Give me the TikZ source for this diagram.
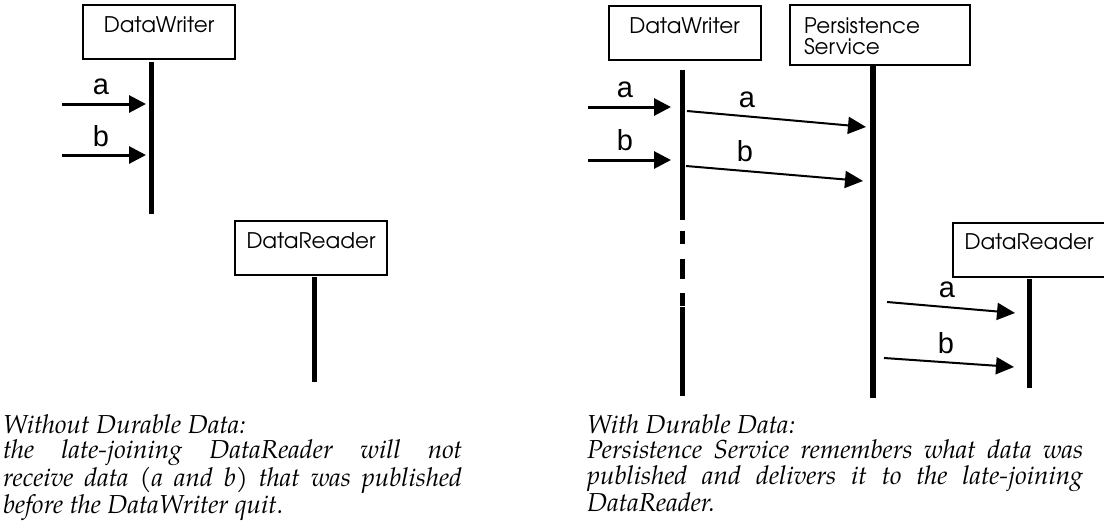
\documentclass[tikz,border=0pt]{standalone}
\usepackage{fontspec}
\usetikzlibrary{arrows.meta}
\newfontfamily\boxfont{TeX Gyre Adventor}
\newfontfamily\capfont{TeX Gyre Pagella}
\newfontfamily\lblfont{Liberation Sans}
\pgfdeclarelayer{edgelayer}
\pgfdeclarelayer{nodelayer}
\pgfsetlayers{edgelayer,nodelayer,main}
\tikzstyle{objbox}=[draw=black, line width=2pt, fill=white, minimum width=152pt, minimum height=54pt, inner sep=0pt, text height=27pt, text depth=27pt, font=\boxfont\fontsize{21.5}{21}\selectfont]
\tikzstyle{lifeline}=[draw=black, line width=5pt]
\tikzstyle{inmsg}=[draw=black, line width=3pt, -{Triangle[length=17pt,width=17pt]}]
\tikzstyle{msg}=[draw=black, line width=2pt, -{Triangle[length=18pt,width=17pt]}]
\tikzstyle{msglabel}=[inner sep=0pt, anchor=base, font=\lblfont\fontsize{29}{29}\selectfont]
\tikzstyle{captext}=[inner sep=0pt, anchor=base west, align=justify, font=\capfont\itshape\fontsize{26}{25.8}\selectfont, execute at begin node={\hyphenpenalty=10000\exhyphenpenalty=10000}]

\begin{document}
\begin{tikzpicture}[x=1pt, y=-1pt]
	\useasboundingbox (0, 0) rectangle (1104, 520);
	\begin{pgfonlayer}{nodelayer}
		\node [style=objbox] (dw) at (159, 32) {DataWriter};
		\node [style=objbox] (dr) at (311, 248) {DataReader};
		\node [style=objbox] (dw2) at (684.5, 33) {DataWriter};
		\node [style=objbox, minimum width=180pt, minimum height=60pt, text width=152pt, align=left, text height=28pt, text depth=32pt] (ps) at (880, 35) {Persistence\\Service};
		\node [style=objbox] (dr2) at (1029, 249.5) {DataReader};
		\node [style=msglabel] (la) at (101, 94) {a};
		\node [style=msglabel] (lb) at (101, 146) {b};
		\node [style=msglabel] (la2) at (625, 97) {a};
		\node [style=msglabel] (lb2) at (625, 150) {b};
		\node [style=msglabel] (la3) at (747, 107) {a};
		\node [style=msglabel] (lb3) at (745, 161) {b};
		\node [style=msglabel] (la4) at (947, 297) {a};
		\node [style=msglabel] (lb4) at (946, 353) {b};
		\node [style=captext, text width=459pt] (cap) at (3, 433) {Without Durable Data:\newline the late-joining DataReader will not\linebreak receive data (a and b) that was published\linebreak before the DataWriter quit.};
		\node [style=captext, text width=496pt] (cap2) at (587, 433) {With Durable Data:\newline Persistence Service remembers what data was\linebreak published and delivers it to the late-joining\linebreak DataReader.};
	\end{pgfonlayer}
	\coordinate (dwtop) at (151, 62);
	\coordinate (dwend) at (151, 214);
	\coordinate (drtop) at (314, 277);
	\coordinate (drend) at (314, 382);
	\coordinate (dw2top) at (682, 70);
	\coordinate (dw2end) at (682, 396);
	\coordinate (pstop) at (873, 65);
	\coordinate (psend) at (873, 398);
	\coordinate (dr2top) at (1029, 279);
	\coordinate (dr2end) at (1029, 388);
	\coordinate (ina) at (62, 104);
	\coordinate (dwa) at (146, 104);
	\coordinate (inb) at (62, 155);
	\coordinate (dwb) at (146, 155);
	\coordinate (ina2) at (588, 107);
	\coordinate (dw2a) at (671, 107);
	\coordinate (inb2) at (588, 160);
	\coordinate (dw2b) at (671, 160);
	\coordinate (outa) at (687, 111);
	\coordinate (psa) at (866, 127);
	\coordinate (outb) at (686, 166);
	\coordinate (psb) at (863, 181);
	\coordinate (ps2a) at (887, 302);
	\coordinate (dr2a) at (1015, 313);
	\coordinate (ps2b) at (884, 358);
	\coordinate (dr2b) at (1014, 367);
	\begin{pgfonlayer}{edgelayer}
		\draw [style=lifeline] (dwtop) to (dwend);
		\draw [style=lifeline] (drtop) to (drend);
		\draw [style=lifeline, dash pattern=on 150pt off 11pt on 13pt off 15pt on 20pt off 14pt on 13pt off 1pt on 89pt] (dw2top) to (dw2end);
		\draw [style=lifeline, line width=5.5pt] (pstop) to (psend);
		\draw [style=lifeline] (dr2top) to (dr2end);
		\draw [style=inmsg] (ina) to (dwa);
		\draw [style=inmsg] (inb) to (dwb);
		\draw [style=inmsg] (ina2) to (dw2a);
		\draw [style=inmsg] (inb2) to (dw2b);
		\draw [style=msg] (outa) to (psa);
		\draw [style=msg] (outb) to (psb);
		\draw [style=msg] (ps2a) to (dr2a);
		\draw [style=msg] (ps2b) to (dr2b);
	\end{pgfonlayer}
\end{tikzpicture}
\end{document}
